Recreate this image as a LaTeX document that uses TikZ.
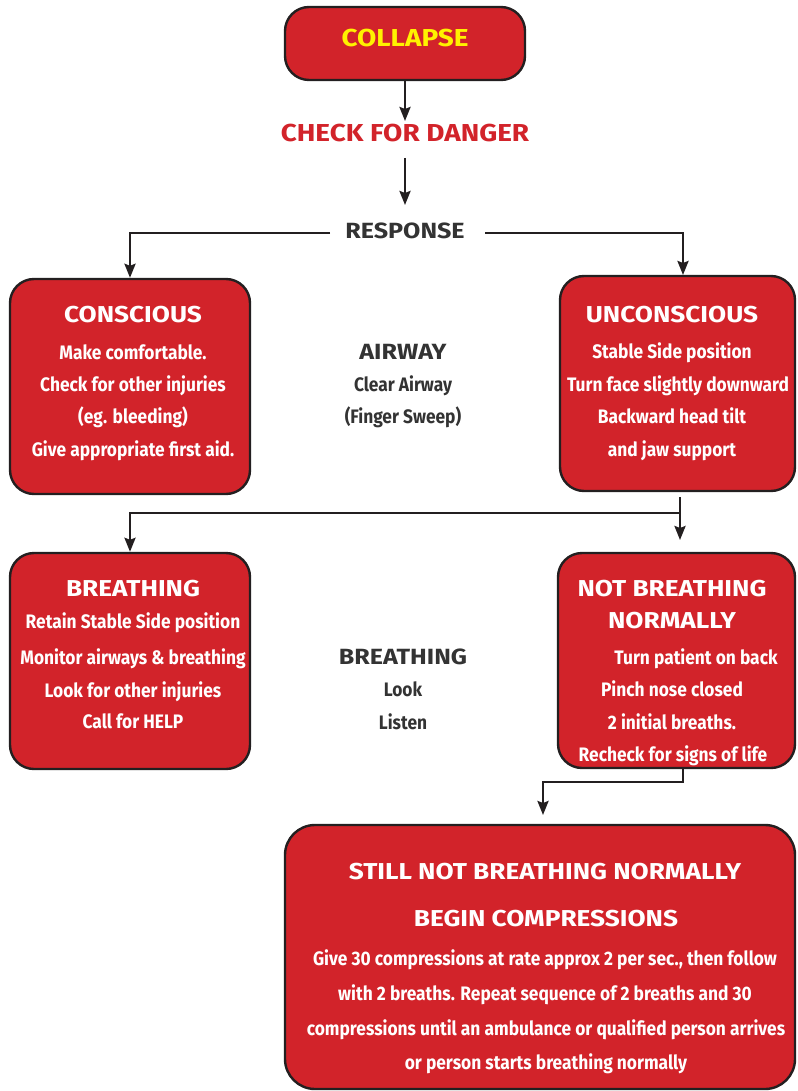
\documentclass[tikz,border=0pt]{standalone}
\usepackage{fontspec}
\setmainfont{Fira Sans}
\newfontfamily\cnd{Fira Sans}[FakeStretch=0.89]
\newfontfamily\hdf{Fira Sans}[FakeStretch=1.14]
\usetikzlibrary{arrows.meta}
\definecolor{fillred}{HTML}{D2232A}
\definecolor{edgec}{HTML}{231F20}
\definecolor{yel}{HTML}{FFF200}
\definecolor{txtgray}{HTML}{333333}
\begin{document}
\begin{tikzpicture}[x=1pt,y=-1pt,
 box/.style={draw=edgec, line width=2.4pt, fill=fillred, rounded corners=24pt, inner sep=0pt},
 head/.style={font=\hdf\fontsize{23}{23}\selectfont\bfseries, text=white, inner sep=0pt, anchor=base},
 body/.style={font=\cnd\fontsize{19.5}{19.5}\selectfont\bfseries, text=white, inner sep=0pt, anchor=base},
 big/.style={font=\hdf\fontsize{24.5}{24.5}\selectfont\bfseries},
 midh/.style={font=\hdf\fontsize{22}{22}\selectfont\bfseries, text=txtgray},
 arr/.style={draw=edgec, line width=2.5pt, -{Stealth[length=14pt,width=11pt,inset=2pt]}},
 ln/.style={draw=edgec, line width=2.5pt}]
\useasboundingbox (0,0) rectangle (797,1091);

% boxes
\node[box, minimum width=240pt, minimum height=73pt] (col) at (405,43.5) {};
\node[box, minimum width=240pt, minimum height=215pt] (con) at (130,386.5) {};
\node[box, minimum width=235pt, minimum height=215pt] (unc) at (677.5,383.5) {};
\node[box, minimum width=240pt, minimum height=216pt] (br) at (130,661) {};
\node[box, minimum width=237pt, minimum height=215pt] (nb) at (676.5,660.5) {};
\node[box, rounded corners=30pt, minimum width=510pt, minimum height=264pt] (bot) at (540,957) {};

% top texts
\node[head, big, text=yel] (tcol) at (405,46.5) {COLLAPSE};
\node[head, big, text=fillred] (chk) at (405,142) {CHECK FOR DANGER};
\node[head, midh] (resp) at (405,238) {RESPONSE};

% conscious
\node[head] (h1) at (133,322) {CONSCIOUS};
\node[body] (c1) at (133,359) {Make comfortable.};
\node[body] (c2) at (133,391) {Check for other injuries};
\node[body] (c3) at (133,423) {(eg. bleeding)};
\node[body] (c4) at (133,456) {Give appropriate first aid.};

% airway
\node[head, midh] (aw) at (403,359) {AIRWAY};
\node[body, text=txtgray] (aw1) at (403,391) {Clear Airway};
\node[body, text=txtgray] (aw2) at (403,423) {(Finger Sweep)};

% unconscious
\node[head] (h2) at (672,322) {UNCONSCIOUS};
\node[body] (u1) at (672,358) {Stable Side position};
\node[body] (u2) at (678,391) {Turn face slightly downward};
\node[body] (u3) at (672,423) {Backward head tilt};
\node[body] (u4) at (672,456) {and jaw support};

% breathing
\node[head] (h3) at (133,596) {BREATHING};
\node[body] (b1) at (133,628) {Retain Stable Side position};
\node[body] (b2) at (133,664) {Monitor airways \& breathing};
\node[body] (b3) at (133,697) {Look for other injuries};
\node[body] (b4) at (133,728) {Call for HELP};

\node[head, midh] (bm) at (403,664) {BREATHING};
\node[body, text=txtgray] (bm1) at (403,696) {Look};
\node[body, text=txtgray] (bm2) at (403,729) {Listen};

% not breathing
\node[head] (h4) at (672,596) {NOT BREATHING};
\node[head] (h4b) at (672,628) {NORMALLY};
\node[body] (n1) at (696,664) {Turn patient on back};
\node[body] (n2) at (672,696) {Pinch nose closed};
\node[body] (n3) at (672,729) {2 initial breaths.};
\node[body] (n4) at (673,761) {Recheck for signs of life};

% bottom
\node[head] (h5) at (545,879) {STILL NOT BREATHING NORMALLY};
\node[head] (h5b) at (546,926) {BEGIN COMPRESSIONS};
\node[body] (s1) at (545,965) {Give 30 compressions at rate approx 2 per sec., then follow};
\node[body] (s2) at (545,1000) {with 2 breaths. Repeat sequence of 2 breaths and 30};
\node[body] (s3) at (546,1035) {compressions until an ambulance or qualified person arrives};
\node[body] (s4) at (546,1069) {or person starts breathing normally};

% connector points
\coordinate (p1) at (405,121);
\coordinate (p2) at (405,158);
\coordinate (p3) at (405,205);
\coordinate (rl) at (330,233);
\coordinate (rr) at (485,233);
\coordinate (ut) at (683,275);
\coordinate (j1) at (680,497);
\coordinate (j2) at (680,513);
\coordinate (j3) at (680,540);
\coordinate (k1) at (683,768);
\coordinate (k2) at (683,782);
\coordinate (k3) at (543,815);

\draw[arr] (col.south) -- (p1);
\draw[arr] (p2) -- (p3);
\draw[arr] (rl) -| (con.north);
\draw[arr] (rr) -| (ut);
\draw[arr] (j1) -- (j3);
\draw[arr] (j2) -| (br.north);
\draw[arr] (k1) -- (k2) -| (k3);
\end{tikzpicture}
\end{document}
